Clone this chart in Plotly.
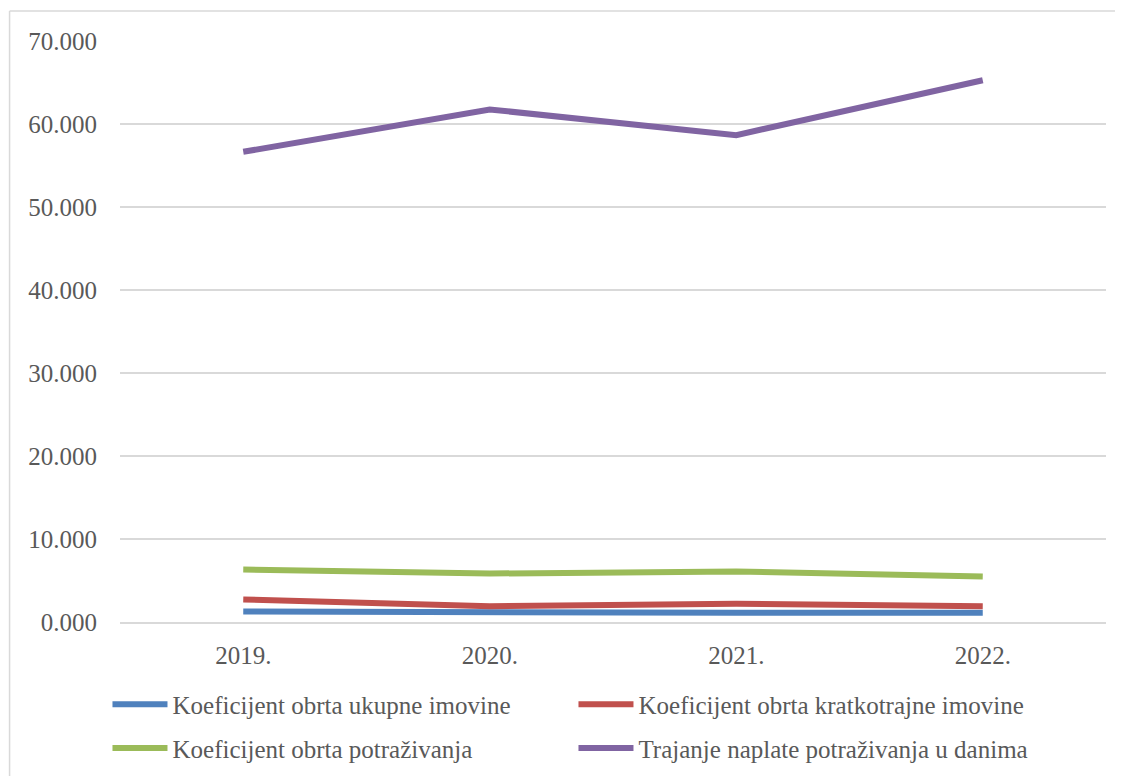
import plotly.graph_objects as go

years = ["2019.", "2020.", "2021.", "2022."]
ukupne = [1.26, 1.10, 1.10, 1.10]
kratkotrajne = [2.71, 1.89, 2.20, 1.89]
potrazivanja = [6.32, 5.84, 6.08, 5.48]
trajanje = [56.65, 61.75, 58.66, 65.27]

series = [
    ("Koeficijent obrta ukupne imovine", ukupne, "#4F81BD", "legend"),
    ("Koeficijent obrta kratkotrajne imovine", kratkotrajne, "#C0504D", "legend"),
    ("Koeficijent obrta potraživanja", potrazivanja, "#9BBB59", "legend2"),
    ("Trajanje naplate potraživanja u danima", trajanje, "#8064A2", "legend2"),
]

fig = go.Figure()
for name, vals, color, leg in series:
    fig.add_trace(go.Scatter(
        x=years, y=vals, name=name, mode="lines", legend=leg,
        line=dict(color=color, width=6),
    ))

# page body adds an 8px offset, so the figure is 8px smaller than the window
legend_style = dict(
    orientation="h", x=-0.0127, xanchor="left", yanchor="middle",
    font=dict(size=25, family="Liberation Serif", color="#595959"),
    entrywidth=396, entrywidthmode="pixels", itemwidth=55,
    traceorder="normal", bgcolor="rgba(0,0,0,0)",
)

frame = dict(type="line", xref="paper", yref="paper",
             line=dict(color="#d9d9d9", width=1.5), layer="below")

fig.update_layout(
    width=1115, height=768,
    margin=dict(l=111.5, r=16.5, t=33, b=153.5, autoexpand=False),
    paper_bgcolor="white", plot_bgcolor="white",
    font=dict(family="Liberation Serif", color="#595959"),
    showlegend=True,
    legend=dict(legend_style, y=-0.1419),
    legend2=dict(legend_style, y=-0.2175),
    # chart frame: only the left and top edges fall inside the page
    shapes=[
        dict(frame, x0=-0.112, x1=-0.112, y0=-0.3, y1=1.0516),
        dict(frame, x0=-0.112, x1=1.05, y0=1.0516, y1=1.0516),
    ],
)
fig.update_xaxes(
    type="category", range=[-0.5, 3.5], showgrid=False,
    showline=True, linecolor="#d9d9d9", linewidth=1.5,
    ticks="", tickfont=dict(size=25, color="#595959"),
    ticklabelstandoff=10,
)
fig.update_yaxes(
    range=[0, 70], dtick=10, tickformat=".3f",
    showgrid=True, gridcolor="#d9d9d9", gridwidth=1.5,
    zeroline=False, showline=False,
    ticks="", tickfont=dict(size=25, color="#595959"),
    ticklabelstandoff=22,
)

fig.write_html("out.html")
